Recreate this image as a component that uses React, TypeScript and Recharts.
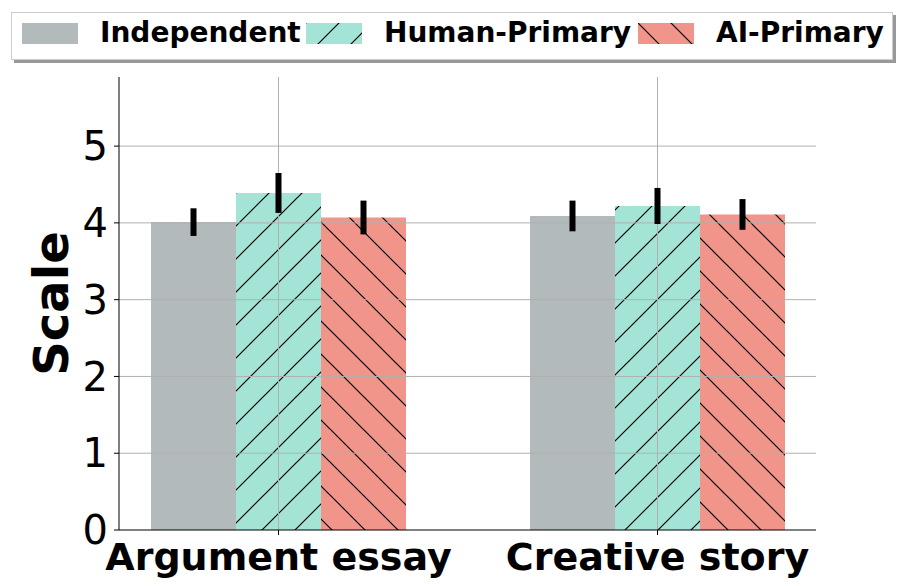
import React from 'react';
import {
  BarChart,
  Bar,
  XAxis,
  YAxis,
  ErrorBar,
  ReferenceLine,
  Legend,
} from 'recharts';

const categories = ['Argument essay', 'Creative story'];
const independent = [4.01, 4.09];
const independentErr = [0.18, 0.2];
const humanPrimary = [4.39, 4.22];
const humanPrimaryErr = [0.26, 0.235];
const aiPrimary = [4.07, 4.11];
const aiPrimaryErr = [0.22, 0.2];
const yTicks = [0, 1, 2, 3, 4, 5];

const series = [
  { key: 'independent', name: 'Independent', fill: '#b2babb', hatch: null },
  { key: 'human', name: 'Human-Primary', fill: '#a3e4d7', hatch: 'fwd' },
  { key: 'ai', name: 'AI-Primary', fill: '#f1948a', hatch: 'back' },
];

const data = categories.map((name, i) => ({
  name,
  independent: independent[i],
  independentErr: independentErr[i],
  human: humanPrimary[i],
  humanErr: humanPrimaryErr[i],
  ai: aiPrimary[i],
  aiErr: aiPrimaryErr[i],
}));

const FONT = 'DejaVu Sans, sans-serif';
const S = 33;

function Patterns() {
  return (
    <svg width={0} height={0} style={{ position: 'absolute' }}>
      <defs>
        <pattern id="hatch-fwd" patternUnits="userSpaceOnUse" width={S} height={S}>
          <rect width={S} height={S} fill="#a3e4d7" />
          <path
            d={`M0,${S} L${S},0 M-4,4 L4,-4 M${S - 4},${S + 4} L${S + 4},${S - 4}`}
            stroke="#000"
            strokeWidth={1.2}
          />
        </pattern>
        <pattern id="hatch-back" patternUnits="userSpaceOnUse" width={S} height={S}>
          <rect width={S} height={S} fill="#f1948a" />
          <path
            d={`M0,0 L${S},${S} M-4,${S - 4} L4,${S + 4} M${S - 4},-4 L${S + 4},4`}
            stroke="#000"
            strokeWidth={1.2}
          />
        </pattern>
      </defs>
    </svg>
  );
}

function LegendBox() {
  return (
    <div
      style={{
        position: 'absolute',
        left: 11,
        top: 12,
        width: 880,
        height: 46,
        border: '1px solid #ccc',
        background: '#fff',
        boxShadow: '3px 3px 0 #999',
        fontFamily: FONT,
        fontWeight: 'bold',
        fontSize: 28,
      }}
    >
      {series.map((s, i) => (
        <div
          key={s.key}
          style={{ position: 'absolute', left: [10, 294, 626][i], top: 5, display: 'flex', alignItems: 'center' }}
        >
          <svg width={56} height={21}>
            <rect
              width={56}
              height={21}
              fill={s.hatch ? `url(#hatch-${s.hatch})` : s.fill}
            />
          </svg>
          <span style={{ marginLeft: 22, lineHeight: '30px' }}>{s.name}</span>
        </div>
      ))}
    </div>
  );
}

export default function App() {
  return (
    <div style={{ position: 'absolute', left: 0, top: 0, width: 903, height: 586, background: '#fff' }}>
      <Patterns />
      <BarChart
        width={903}
        height={586}
        data={data}
        margin={{ top: 77, right: 87, left: 9, bottom: 6 }}
        barGap={0}
        barSize={85}
      >
        <XAxis
          dataKey="name"
          padding={{ left: -30, right: -31 }}
          tickLine={{ stroke: '#000' }}
          tickSize={5}
          axisLine={{ stroke: '#000' }}
          height={50}
          tick={{ fill: '#000', fontSize: 38, fontWeight: 'bold', fontFamily: FONT, dy: 6 }}
        />
        <XAxis
          xAxisId="top"
          dataKey="name"
          orientation="top"
          tick={false}
          tickLine={false}
          height={0}
          axisLine={{ stroke: '#000' }}
        />
        <YAxis
          domain={[0, 5.9]}
          ticks={yTicks}
          allowDataOverflow
          width={110}
          tickSize={5}
          tickLine={{ stroke: '#000' }}
          axisLine={{ stroke: '#000' }}
          tick={{ fill: '#000', fontSize: 40, fontFamily: FONT, dx: -4 }}
          label={{
            value: 'Scale',
            angle: -90,
            position: 'insideLeft',
            dx: 37,
            style: { fill: '#000', fontSize: 48, fontWeight: 'bold', fontFamily: FONT, textAnchor: 'middle' },
          }}
        />
        <YAxis
          yAxisId="right"
          orientation="right"
          domain={[0, 5.9]}
          tick={false}
          tickLine={false}
          width={0}
          axisLine={{ stroke: '#000' }}
        />
        {series.map((s) => (
          <Bar
            key={s.key}
            dataKey={s.key}
            name={s.name}
            fill={s.hatch ? `url(#hatch-${s.hatch})` : s.fill}
            isAnimationActive={false}
          >
            <ErrorBar
              dataKey={`${s.key}Err`}
              width={0}
              stroke="#000"
              strokeWidth={6}
              isAnimationActive={false}
              zIndex={1500}
            />
          </Bar>
        ))}
        {yTicks.slice(1).map((t) => (
          <ReferenceLine key={`y${t}`} y={t} stroke="#b0b0b0" strokeWidth={1} zIndex={350} />
        ))}
        {categories.map((c) => (
          <ReferenceLine key={`x${c}`} x={c} stroke="#b0b0b0" strokeWidth={1} zIndex={350} />
        ))}
        <Legend content={() => null} />
      </BarChart>
      <LegendBox />
    </div>
  );
}
